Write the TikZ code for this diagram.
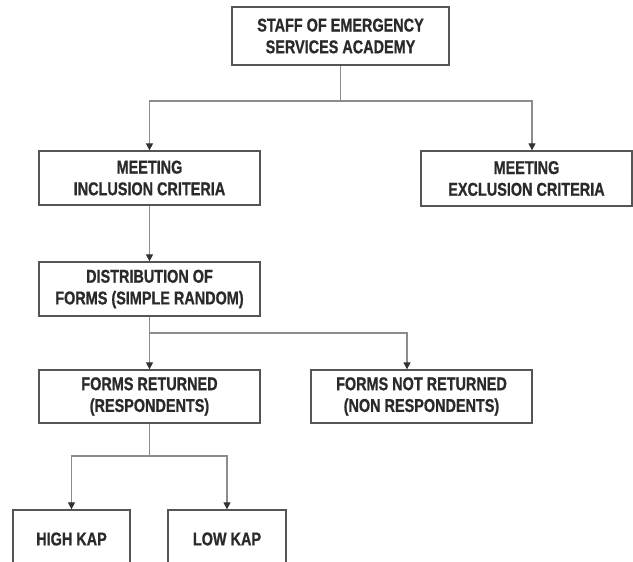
\documentclass[tikz,border=0pt]{standalone}
\usepackage{fontspec}
\newfontfamily\boxfont{Liberation Sans}[FakeStretch=0.78,BoldFeatures={FakeBold=0.8}]
\usetikzlibrary{arrows.meta,positioning}
\definecolor{boxline}{HTML}{555555}
\definecolor{flowline}{HTML}{8C8C8C}
\definecolor{boxtext}{HTML}{2A2A2A}
\definecolor{tipfill}{HTML}{333333}

\begin{document}
\begin{tikzpicture}[x=1pt,y=-1pt,
    flow/.style={draw=flowline,line width=1.2pt},
    flowarr/.style={flow,-{Triangle[length=7pt,width=7pt,color=tipfill]}}]
  \useasboundingbox (0,0) rectangle (633,562);
      \begin{scope}[every node/.style={draw=boxline,line width=1.3pt,fill=white,text=boxtext,
          align=center,inner sep=0pt,minimum width=221pt,minimum height=54pt,
          font=\boxfont\bfseries\fontsize{18.5}{21.7}\selectfont}]
        \node (staff)[minimum width=217pt,minimum height=58pt] at (340.5,36) {STAFF OF EMERGENCY\\SERVICES ACADEMY};
        \node (incl) at (149.5,178) {MEETING\\INCLUSION CRITERIA};
        \node (excl)[minimum width=211pt,minimum height=55pt] at (526.5,178.5) {MEETING\\EXCLUSION CRITERIA};
        \node (distr) at (149.5,289) {DISTRIBUTION OF\\FORMS (SIMPLE RANDOM)};
        \node (ret)[minimum height=53pt] at (149.5,396.5) {FORMS RETURNED\\(RESPONDENTS)};
        \node (notret)[minimum height=53pt] at (421.5,396.5) {FORMS NOT RETURNED\\(NON RESPONDENTS)};
        \node (high)[minimum width=117pt,minimum height=58pt] at (71.5,539) {HIGH KAP};
        \node (low)[minimum width=118pt,minimum height=58pt] at (227,539) {LOW KAP};
      \end{scope}
      \coordinate (split1) at (340.5,101);
      \coordinate (split2) at (149.5,333);
      \coordinate (split3) at (149.5,456);
      \begin{scope}
        \draw[flow] (staff.south) -- (split1);
        \draw[flowarr] (split1) -| (incl.north);
        \draw[flowarr] (split1) -| ([xshift=5.5pt]excl.north);
        \draw[flowarr] (incl.south) -- (distr.north);
        \draw[flowarr] (distr.south) -- (ret.north);
        \draw[flowarr] (split2) -| ([xshift=-14.5pt]notret.north);
        \draw[flow] (ret.south) -- (split3);
        \draw[flowarr] (split3) -| (high.north);
        \draw[flowarr] (split3) -| (low.north);
      \end{scope}
\end{tikzpicture}
\end{document}
